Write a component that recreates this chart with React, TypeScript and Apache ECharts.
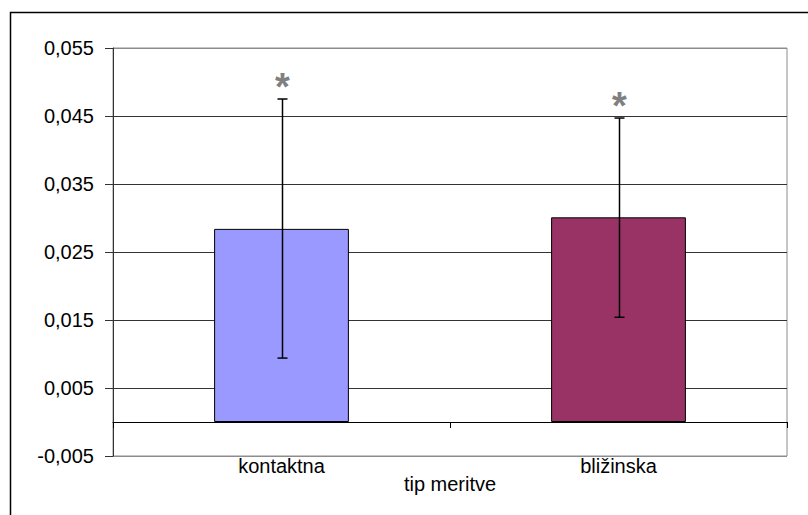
import React, { useEffect, useRef } from "react";
import * as echarts from "echarts";

const categories = ["kontaktna", "bližinska"];
const means = [0.0284, 0.0301];
const errLow = [0.0094, 0.0154];
const errHigh = [0.0475, 0.0447];
const markers = ["*", "*"];
const barColors = ["#9999FF", "#993366"];
const yMin = -0.005;
const yMax = 0.055;
const yStep = 0.01;
const xName = "tip meritve";

const FONT = "Liberation Sans, Arial, sans-serif";

export default function App() {
  const ref = useRef<HTMLDivElement>(null);
  useEffect(() => {
    if (!ref.current) return;
    const chart = echarts.init(ref.current, null, { renderer: "svg" });
    const errData = categories.map((c, i) => [i, means[i], errLow[i], errHigh[i]]);
    chart.setOption({
      animation: false,
      backgroundColor: "#ffffff",
      grid: {
        left: 113,
        top: 48,
        right: 21,
        bottom: 59,
        containLabel: false,
        outerBoundsMode: "none",
        show: true,
        borderColor: "#8c8c8c",
        borderWidth: 1,
        backgroundColor: "transparent",
      },
      graphic: [
        {
          type: "rect",
          shape: { x: 10.5, y: 12.5, width: 1000, height: 1000 },
          style: { fill: "none", stroke: "#000", lineWidth: 1.5 },
          silent: true,
          z: 100,
        },
      ],
      xAxis: {
        type: "category",
        data: categories,
        name: xName,
        nameLocation: "middle",
        nameGap: 18,
        nameMoveOverlap: false,
        nameTextStyle: { color: "#000", fontSize: 20, fontFamily: FONT },
        axisLine: { show: true, onZero: true, lineStyle: { color: "#000", width: 1 } },
        axisTick: { show: true, length: 6, interval: 0, alignWithLabel: false, lineStyle: { color: "#000" } },
        axisLabel: { color: "#000", fontSize: 20, fontFamily: FONT, margin: 0, interval: 0 },
        splitLine: { show: false },
        z: 5,
      },
      yAxis: {
        type: "value",
        min: yMin,
        max: yMax,
        interval: yStep,
        axisLine: { show: true, lineStyle: { color: "#333", width: 1 } },
        axisTick: { show: true, length: 8, inside: false, lineStyle: { color: "#333" } },
        axisLabel: {
          color: "#000",
          fontSize: 20,
          fontFamily: FONT,
          margin: 19,
          formatter: (v: number) => (Math.round(v * 1000) / 1000).toFixed(3).replace(".", ","),
        },
        splitLine: {
          show: true,
          lineStyle: {
            color: ["#8c8c8c", "#333", "#333", "#333", "#333", "#333", "#8c8c8c"],
            width: 1,
          },
        },
      },
      series: [
        {
          type: "bar",
          data: means.map((v, i) => ({ value: v, itemStyle: { color: barColors[i] } })),
          barWidth: "40%",
          itemStyle: { borderColor: "#000", borderWidth: 1 },
          z: 2,
        },
        {
          type: "custom",
          data: errData,
          z: 10,
          renderItem: (params: any, api: any) => {
            const x = api.value(0);
            const lo = api.coord([x, api.value(2)]);
            const hi = api.coord([x, api.value(3)]);
            const cx = Math.round(lo[0]) + 0.5;
            const cap = 5;
            const lineStyle = { stroke: "#000", lineWidth: 1.5 };
            return {
              type: "group",
              children: [
                { type: "line", shape: { x1: cx, y1: lo[1], x2: cx, y2: hi[1] }, style: lineStyle },
                { type: "line", shape: { x1: cx - cap, y1: lo[1], x2: cx + cap, y2: lo[1] }, style: lineStyle },
                { type: "line", shape: { x1: cx - cap, y1: hi[1], x2: cx + cap, y2: hi[1] }, style: lineStyle },
                {
                  type: "text",
                  style: {
                    text: String(markers[params.dataIndex]),
                    x: cx,
                    y: hi[1] - 12,
                    fill: "#808080",
                    font: `bold 38px ${FONT}`,
                    align: "center",
                    verticalAlign: "middle",
                  },
                },
              ],
            };
          },
        },
      ],
    });
    return () => chart.dispose();
  }, []);
  return (
    <div
      ref={ref}
      style={{ position: "fixed", left: 0, top: 0, width: 808, height: 515, background: "#fff" }}
    />
  );
}
